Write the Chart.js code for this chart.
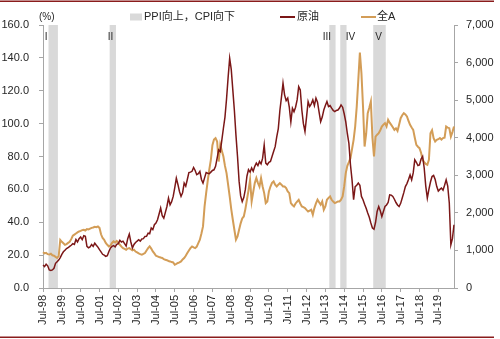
<!DOCTYPE html>
<html>
<head>
<meta charset="utf-8">
<script src="https://cdn.jsdelivr.net/npm/chart.js@4.4.1/dist/chart.umd.min.js"></script>
<style>
  html, body { margin: 0; padding: 0; background: #fff; }
  #wrap { width: 500px; height: 339px; }
</style>
</head>
<body>
<div id="wrap"><canvas id="oilChart" width="500" height="339"></canvas></div>
<script>
// monthly series, first point Jul-98
const startYear = 1998;
const startMonth = 7;

const tickLabels = ['Jul-98', 'Jul-99', 'Jul-00', 'Jul-01', 'Jul-02', 'Jul-03', 'Jul-04', 'Jul-05',
    'Jul-06', 'Jul-07', 'Jul-08', 'Jul-09', 'Jul-10', 'Jul-11', 'Jul-12', 'Jul-13', 'Jul-14',
    'Jul-15', 'Jul-16', 'Jul-17', 'Jul-18', 'Jul-19'];

// 原油 (left axis)
const oil = [
    14, 13, 14.5, 13.5, 11, 10.7,
    11, 12, 15, 16, 17, 18.5, 20.5, 22, 23, 24, 24.5, 25.3,
    26, 27, 26.5, 29.5, 28, 30, 31, 29.4, 31.8, 31.4, 25.3, 24.5,
    25, 26.5, 25.3, 27.3, 26, 24.9, 23.3, 22, 20.5, 20, 19.2, 19.6,
    22.2, 24.3, 25.3, 25.8, 25, 26.5, 27, 29, 28, 28.5, 27, 25.5,
    30, 32.8, 28, 24.3, 26.5, 27.7, 28.5, 29.4, 28.5, 29.8, 30, 31.4,
    31.5, 33.4, 33, 36.5, 35.5, 38.5, 39.5, 41.5, 45, 48.6, 44, 42.5,
    46, 49.6, 54.7, 50.6, 52.5, 55.7, 61, 66.8, 63, 58.7, 55.7, 58,
    63.8, 62, 66, 70.2, 70.5, 71, 73.3, 71.5, 68.9, 69.5, 70.9, 66,
    63.8, 67, 70.2, 69.8, 69.5, 70.5, 71.5, 71.9, 74, 79, 84, 83,
    90, 97.2, 104, 115, 128, 139.8, 133, 120.5, 108, 93, 80, 65,
    56, 52.6, 55, 60, 68, 72, 70.5, 73, 71, 74, 76, 74.5,
    77, 75.5, 79, 87, 76, 75, 76.5, 77, 80, 83, 86, 92,
    97, 108, 116, 124.6, 117.5, 114, 115.5, 110, 101, 109.4, 107.3, 110,
    114.4, 122.5, 120.5, 108.3, 100, 95.2, 104, 113.4, 110.4, 112, 114.4, 111,
    115.5, 113, 107, 101.2, 104, 108.3, 111, 113.4, 110.4, 111, 109.4, 108,
    107.3, 108, 108.3, 109.5, 111.4, 110, 106, 101, 94, 88, 75, 65.8,
    53.7, 61.7, 62.5, 63.8, 62.5, 55.7, 53.7, 51, 48.5, 45.6, 43, 39.5,
    36.5, 35.8, 40, 46.6, 49.6, 47, 43.5, 46.5, 49.6, 50.5, 52, 56.7,
    56.5, 55.7, 54, 52, 50.5, 49.6, 51.5, 54.7, 58, 61.7, 63.5, 66,
    68.8, 65.8, 70, 78, 76.5, 74.5, 74.9, 78.5, 80, 73, 62, 54.7,
    60, 64.5, 67.8, 68.5, 66, 61.7, 59, 60, 60.8, 59.5, 62.5, 65.8,
    62, 51.7, 26.3, 30, 38.5
];

// 全A (right axis)
const allA = [
    950, 920, 935, 900, 890, 910,
    870, 860, 830, 800, 850, 1280, 1230, 1190, 1150, 1170, 1200, 1230,
    1300, 1390, 1420, 1450, 1480, 1505, 1520, 1540, 1550, 1530, 1570, 1560,
    1580, 1600, 1610, 1630, 1620, 1638, 1600, 1430, 1330, 1284, 1200, 1150,
    1106, 1130, 1200, 1240, 1210, 1250, 1200, 1151, 1100, 1062, 1040, 1018,
    1050, 1062, 1030, 1000, 1020, 970, 947, 920, 900, 885, 910, 930,
    1000, 1060, 1106, 1050, 974, 920, 859, 840, 824, 810, 798, 770,
    752, 740, 720, 707, 690, 681, 620, 640, 665, 680, 707, 760,
    798, 860, 930, 1000, 1062, 1106, 1080, 1062, 1100, 1196, 1284, 1450,
    1640, 2170, 2526, 2850, 3150, 3411, 3800, 3950, 3989, 3900, 3366, 3810,
    3650, 3500, 3250, 3058, 2750, 2436, 2100, 1816, 1550, 1284, 1372, 1550,
    1720, 1850, 1904, 2100, 2348, 2600, 2880, 2303, 2550, 2792, 2925, 2800,
    2702, 2925, 2700, 2526, 2260, 2300, 2569, 2700, 2800, 2836, 2750, 2702,
    2750, 2792, 2750, 2702, 2702, 2659, 2569, 2526, 2260, 2210, 2170, 2250,
    2300, 2348, 2250, 2170, 2150, 2127, 2080, 2037, 2060, 2082, 1949, 2127,
    2250, 2348, 2280, 2215, 2303, 2082, 2170, 2348, 2400, 2436, 2348, 2300,
    2260, 2280, 2303, 2303, 2350, 2436, 2702, 3058, 3250, 3350, 3457, 3700,
    3943, 4297, 4829, 5539, 6265, 5717, 4829, 3765, 4100, 4653, 4800, 4962,
    4000, 3500, 4031, 4080, 4121, 4200, 4297, 4350, 4387, 4297, 4475, 4400,
    4342, 4280, 4209, 4250, 4180, 4342, 4520, 4600, 4653, 4620, 4564, 4450,
    4342, 4270, 4209, 4000, 3810, 3760, 3722, 3600, 3411, 3350, 3300, 3279,
    3411, 4121, 4200, 3989, 3900, 3943, 3960, 3989, 3950, 3989, 4000, 4297,
    4270, 4254, 4031, 4150, 4297
];

// PPI向上，CPI向下 periods (first and last month)
const bands = [['Nov-98', 'Apr-99'], ['Feb-02', 'May-02'], ['Oct-13', 'Jan-14'],
    ['May-14', 'Aug-14'], ['Feb-16', 'Sep-16']];
const bandTags = [['I', 'Sep-98'], ['II', 'Feb-02'], ['III', 'Aug-13'], ['IV', 'Nov-14'], ['V', 'May-16']];

const MON = ['Jan', 'Feb', 'Mar', 'Apr', 'May', 'Jun', 'Jul', 'Aug', 'Sep', 'Oct', 'Nov', 'Dec'];
const months = oil.map(function (_, i) {
    const t = startMonth - 1 + i;
    const yy = (startYear + Math.floor(t / 12)) % 100;
    return MON[t % 12] + '-' + String(yy).padStart(2, '0');
});

const OIL_COLOR = '#7b1717';
const ALLA_COLOR = '#d39d57';
const BAND_COLOR = '#d9d9d9';
const AXIS_COLOR = '#a6a6a6';
const TEXT_COLOR = '#262626';
const FONT = "'Liberation Sans', 'Noto Sans CJK SC', sans-serif";

Chart.defaults.font.family = FONT;
Chart.defaults.font.size = 11;
Chart.defaults.color = TEXT_COLOR;

// grey period bands behind the lines
const bandPlugin = {
    id: 'bands',
    beforeDatasetsDraw(chart) {
        const { ctx, chartArea, scales } = chart;
        ctx.save();
        ctx.fillStyle = BAND_COLOR;
        bands.forEach(function (b) {
            const x0 = scales.x.getPixelForValue(months.indexOf(b[0]) - 0.5);
            const x1 = scales.x.getPixelForValue(months.indexOf(b[1]) + 0.5);
            ctx.fillRect(x0, chartArea.top, x1 - x0, chartArea.bottom - chartArea.top);
        });
        ctx.restore();
    }
};

// legend, unit, band numerals and page rules
const decorPlugin = {
    id: 'decor',
    afterDraw(chart) {
        const { ctx, scales } = chart;
        ctx.save();
        ctx.fillStyle = TEXT_COLOR;
        ctx.textBaseline = 'middle';

        ctx.font = '10px ' + FONT;
        ctx.textAlign = 'center';
        bandTags.forEach(function (t) {
            ctx.fillText(t[0], scales.x.getPixelForValue(months.indexOf(t[1])), 37);
        });

        ctx.textAlign = 'left';
        ctx.fillText('(%)', 39, 17);

        ctx.font = '11px ' + FONT;
        ctx.fillStyle = BAND_COLOR;
        ctx.fillRect(130, 13.5, 12, 7);
        ctx.fillStyle = TEXT_COLOR;
        ctx.fillText('PPI向上，CPI向下', 144, 17);

        ctx.lineWidth = 2;
        ctx.strokeStyle = OIL_COLOR;
        ctx.beginPath(); ctx.moveTo(280, 17); ctx.lineTo(295, 17); ctx.stroke();
        ctx.fillText('原油', 297, 17);

        ctx.strokeStyle = ALLA_COLOR;
        ctx.beginPath(); ctx.moveTo(361, 17); ctx.lineTo(376, 17); ctx.stroke();
        ctx.fillText('全A', 377, 17);

        ctx.fillStyle = '#8a1c1c';
        ctx.fillRect(0, 0.5, 494, 1.5);
        ctx.fillRect(0, 336.5, 494, 1.5);
        ctx.restore();
    }
};

new Chart(document.getElementById('oilChart'), {
    type: 'line',
    data: {
        labels: months,
        datasets: [
            { label: '原油', data: oil, yAxisID: 'y', borderColor: OIL_COLOR, borderWidth: 1.5,
              pointRadius: 0, tension: 0, fill: false },
            { label: '全A', data: allA, yAxisID: 'y1', borderColor: ALLA_COLOR, borderWidth: 2,
              pointRadius: 0, tension: 0, fill: false }
        ]
    },
    options: {
        responsive: false,
        animation: false,
        layout: { padding: { top: 25, left: 0, right: 0, bottom: 0 } },
        plugins: { legend: { display: false }, tooltip: { enabled: false } },
        scales: {
            x: {
                type: 'category',
                grid: { drawOnChartArea: false, drawTicks: true, tickLength: 4, color: AXIS_COLOR },
                border: { color: AXIS_COLOR },
                ticks: { autoSkip: false, maxRotation: 90, minRotation: 90, padding: 3 },
                afterBuildTicks: function (s) {
                    s.ticks = s.ticks.filter(function (t) { return tickLabels.indexOf(months[t.value]) >= 0; });
                },
                afterFit: function (s) { s.height = 51; }
            },
            y: {
                position: 'left',
                min: 0, max: 160,
                grid: { drawOnChartArea: false, tickLength: 4, color: AXIS_COLOR },
                border: { color: AXIS_COLOR },
                ticks: { stepSize: 20, padding: 10, callback: function (v) { return v.toFixed(1); } },
                afterFit: function (s) { s.width = 43; }
            },
            y1: {
                position: 'right',
                min: 0, max: 7000,
                grid: { drawOnChartArea: false, tickLength: 4, color: AXIS_COLOR },
                border: { color: AXIS_COLOR },
                ticks: { stepSize: 1000, padding: 8, callback: function (v) { return v.toLocaleString('en-US'); } },
                afterFit: function (s) { s.width = 46; }
            }
        }
    },
    plugins: [bandPlugin, decorPlugin]
});
</script>
</body>
</html>
